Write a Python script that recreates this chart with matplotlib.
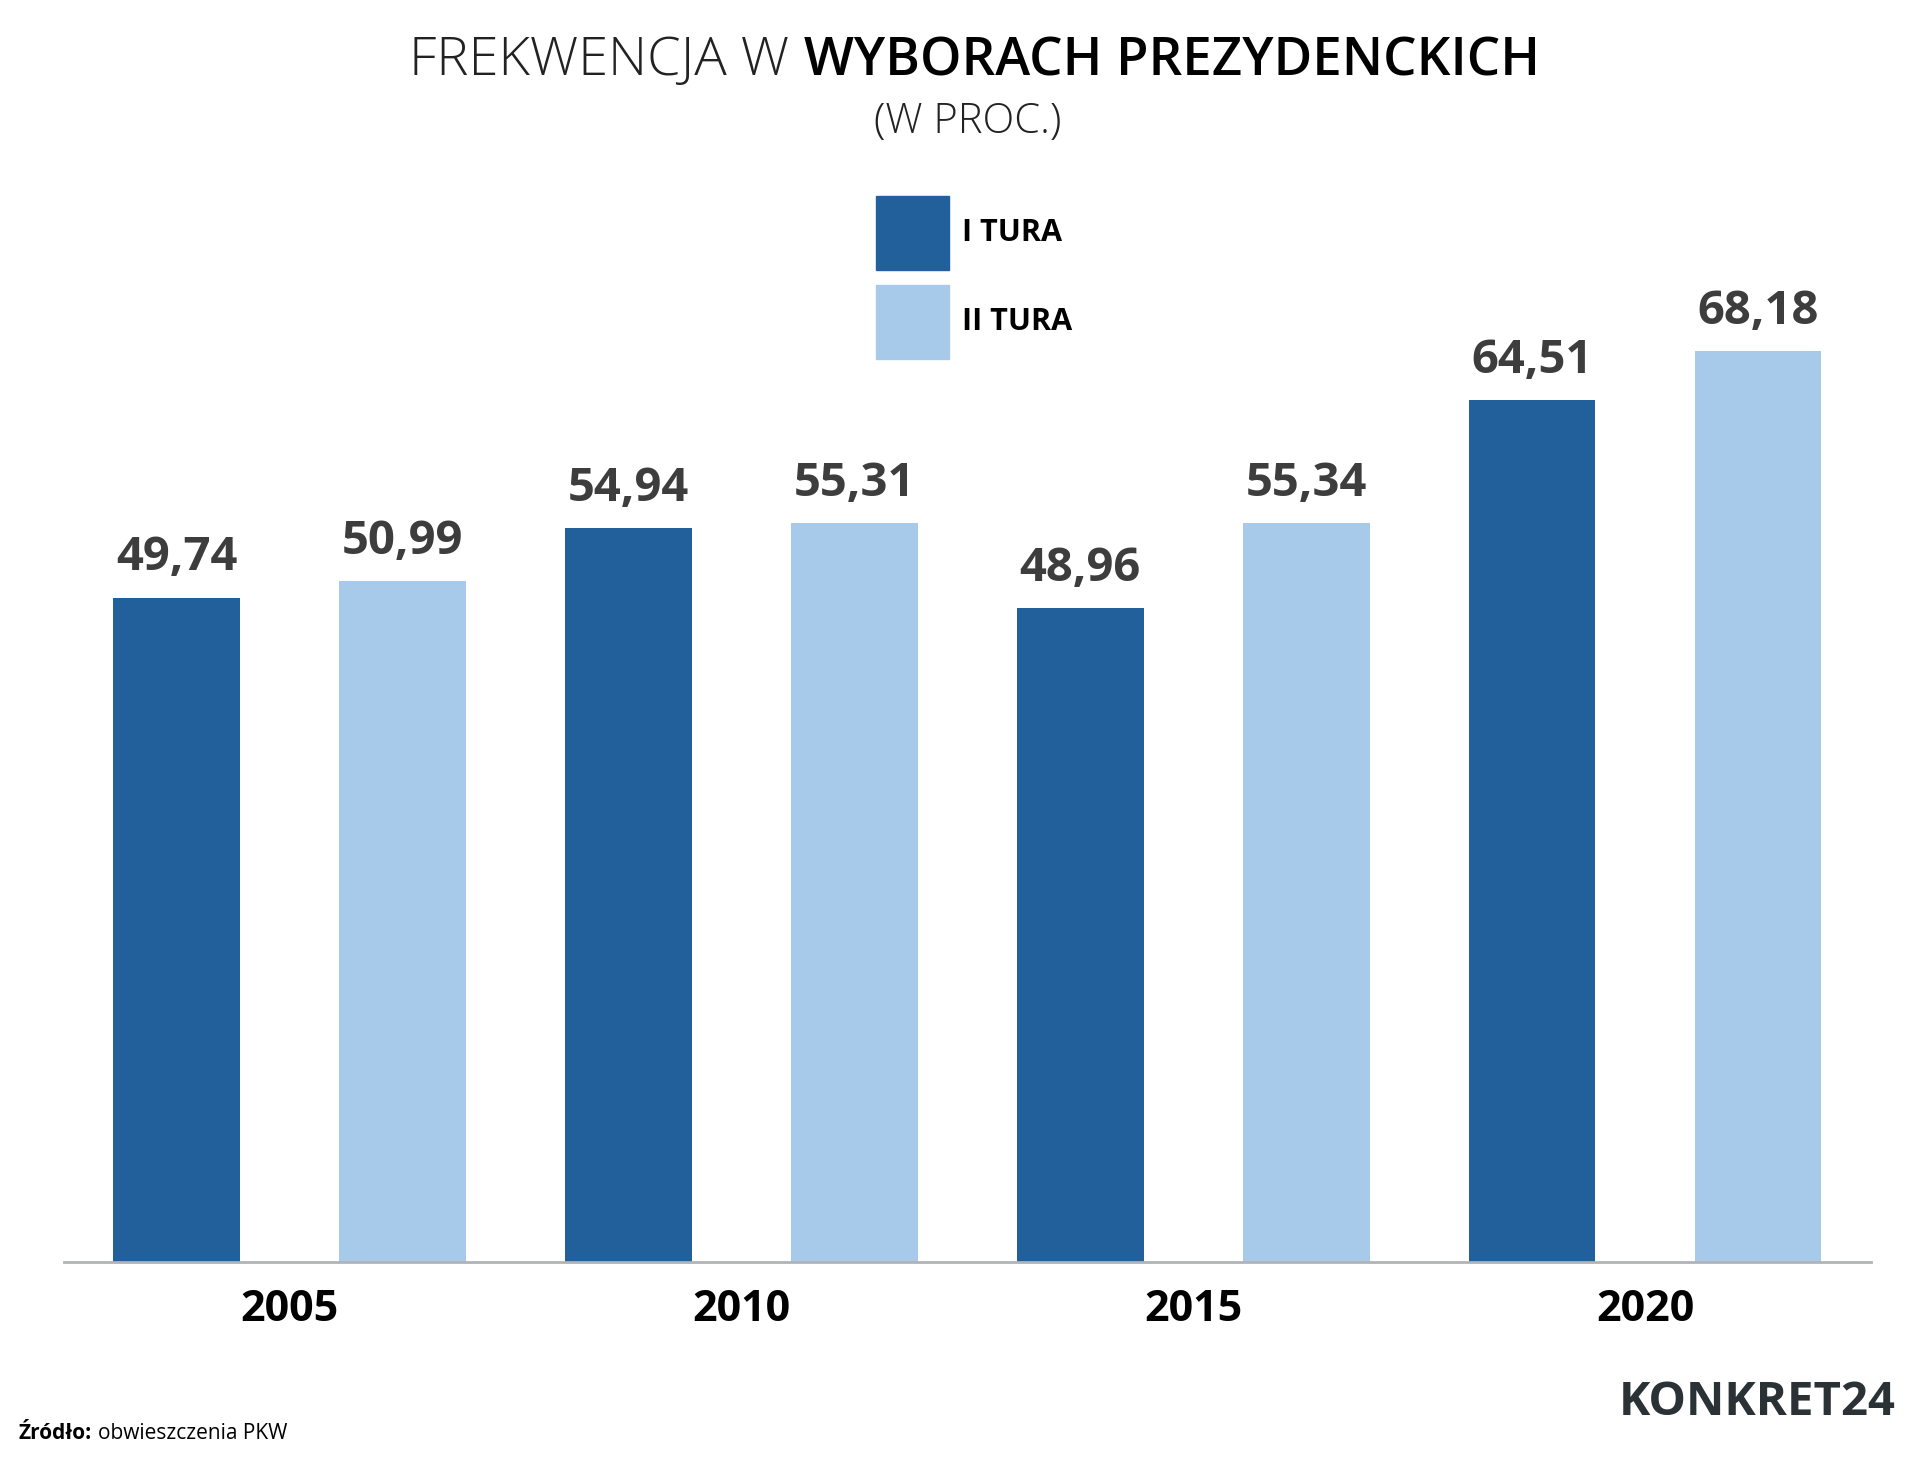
import matplotlib
matplotlib.use("Agg")
import matplotlib.pyplot as plt
from matplotlib.patches import Rectangle

years = ["2005", "2010", "2015", "2020"]
tura1 = [49.74, 54.94, 48.96, 64.51]
tura2 = [50.99, 55.31, 55.34, 68.18]
legend_labels = ["I TURA", "II TURA"]
c1, c2 = "#21609b", "#a7c9ea"
txt = "#3d3d3d"

plt.rcParams['font.family'] = ['Open Sans', 'DejaVu Sans']
fig = plt.figure(figsize=(19.2, 14.7), dpi=100)
ax = fig.add_axes([0.0332, 0.1417, 0.9413, 0.7267])
ax.set_xlim(-0.5, 7.5)
ax.set_ylim(0, 80)
w = 0.56
for i, (a, b) in enumerate(zip(tura1, tura2)):
    for j, (v, c) in enumerate([(a, c1), (b, c2)]):
        x = 2 * i + j
        ax.bar(x, v, width=w, color=c, zorder=2)
        ax.text(x, v + 1.2, f"{v:.2f}".replace(".", ","), ha="center", va="bottom",
                fontsize=34, fontweight="bold", color=txt)
    ax.text(2 * i + 0.5, -2.0, years[i], ha="center", va="top", fontsize=31,
            fontweight="bold", color="black")
for s in ["top", "left", "right"]:
    ax.spines[s].set_visible(False)
ax.spines["bottom"].set_color("#b0b4b8")
ax.spines["bottom"].set_linewidth(2)
ax.set_xticks([]); ax.set_yticks([])

fig.text(0.411, 0.958, "FREKWENCJA W", ha="right", va="center", fontsize=39,
         fontweight="light", color="#222222")
fig.text(0.419, 0.958, "WYBORACH PREZYDENCKICH", ha="left", va="center", fontsize=38,
         fontweight="semibold", color="black")
fig.text(0.504, 0.917, "(W PROC.)", ha="center", va="center", fontsize=30,
         fontweight="light", color="#222222")

for k, (lab, c) in enumerate(zip(legend_labels, [c1, c2])):
    y0 = 1 - (220 + k * 73) / 1200
    fig.patches.append(Rectangle((715 / 1568, y0), 60 / 1568, 60 / 1200,
                                 transform=fig.transFigure, color=c))
    fig.text(786 / 1568, y0 + 30 / 1200, lab, ha="left", va="center",
             fontsize=22, fontweight="bold", color="black")

fig.text(15 / 1568, 1 - 1170 / 1200, "Źródło:", ha="left", va="center",
         fontsize=15, fontweight="bold", color="black")
fig.text(80 / 1568, 1 - 1170 / 1200, "obwieszczenia PKW", ha="left", va="center",
         fontsize=15, color="black")
fig.text(1548 / 1568, 1 - 1145 / 1200, "KONKRET24", ha="right", va="center",
         fontsize=34, fontweight="bold", color="#2b3236")
fig.savefig("out.png", dpi=100, facecolor="white")
